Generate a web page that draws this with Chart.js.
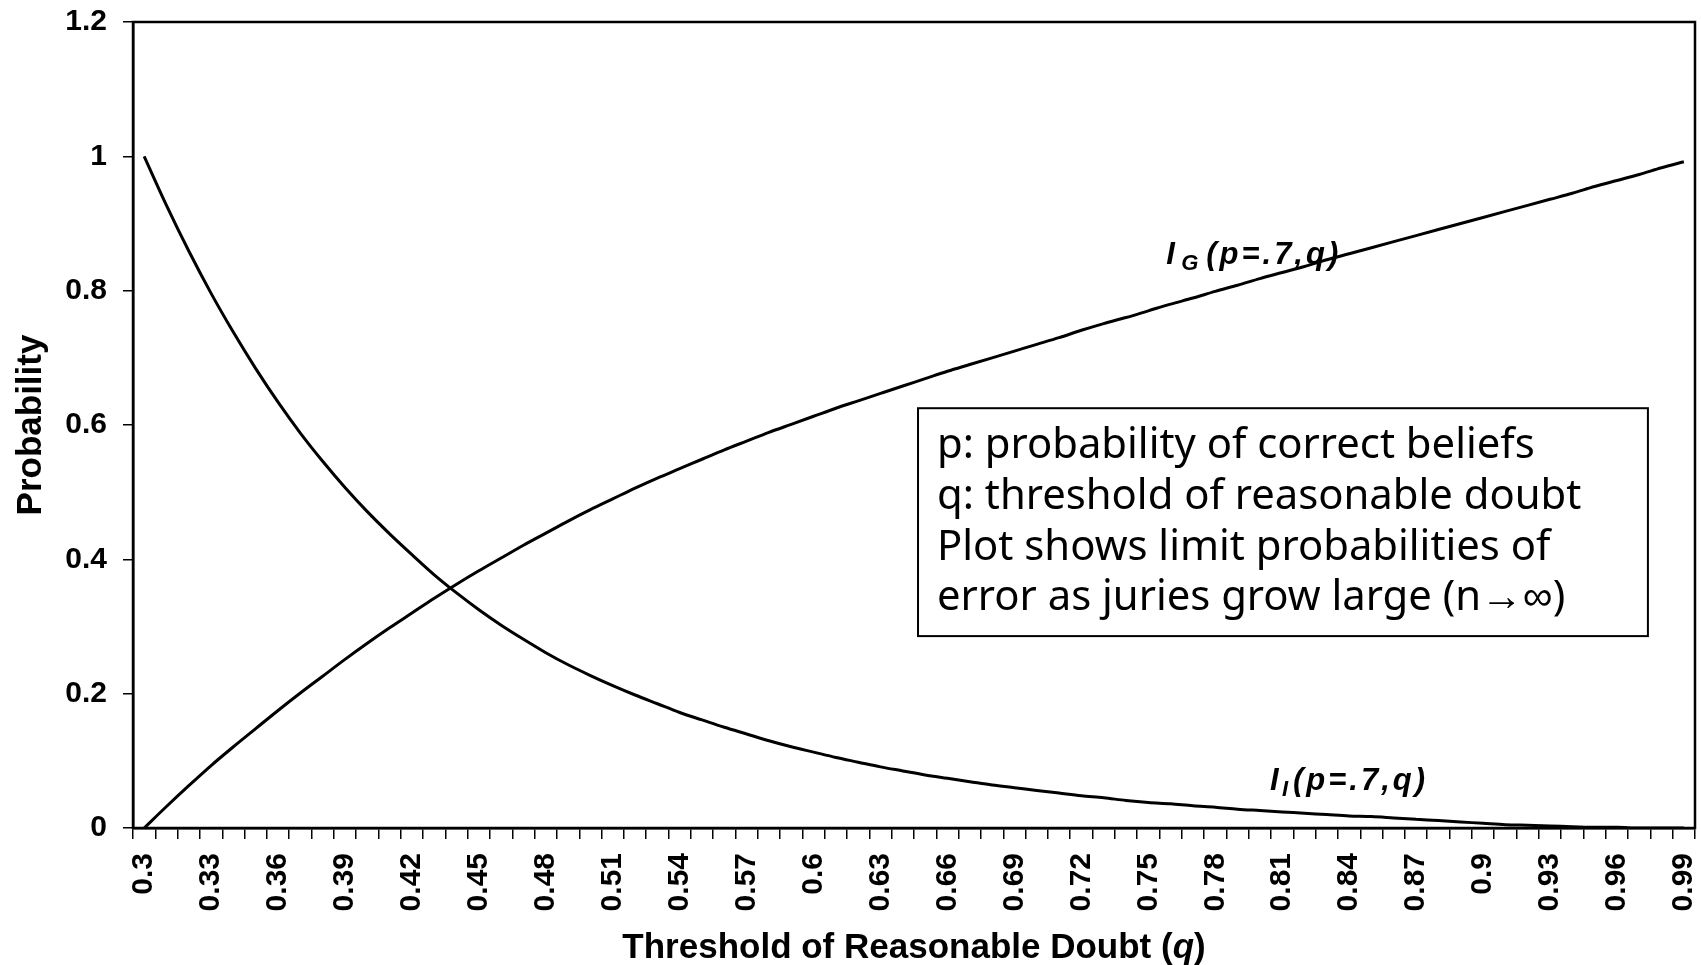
<!DOCTYPE html>
<html>
<head>
<meta charset="utf-8">
<title>Limit probabilities of error</title>
<script src="https://cdn.jsdelivr.net/npm/chart.js@4.4.1/dist/chart.umd.min.js"></script>
<style>
  html, body { margin: 0; padding: 0; background: #fff; }
  #wrap { width: 1701px; height: 965px; }
</style>
</head>
<body>
<div id="wrap"><canvas id="chart" width="1701" height="965"></canvas></div>
<script>
// Threshold of reasonable doubt q, one category per 0.01
const qLabels = [
  '0.3', '0.31', '0.32', '0.33', '0.34', '0.35', '0.36', '0.37', '0.38', '0.39',
  '0.4', '0.41', '0.42', '0.43', '0.44', '0.45', '0.46', '0.47', '0.48', '0.49',
  '0.5', '0.51', '0.52', '0.53', '0.54', '0.55', '0.56', '0.57', '0.58', '0.59',
  '0.6', '0.61', '0.62', '0.63', '0.64', '0.65', '0.66', '0.67', '0.68', '0.69',
  '0.7', '0.71', '0.72', '0.73', '0.74', '0.75', '0.76', '0.77', '0.78', '0.79',
  '0.8', '0.81', '0.82', '0.83', '0.84', '0.85', '0.86', '0.87', '0.88', '0.89',
  '0.9', '0.91', '0.92', '0.93', '0.94', '0.95', '0.96', '0.97', '0.98', '0.99'
];

// I_G(p=.7,q) - guilty acquitted
const igValues = [
  0.000, 0.032, 0.063, 0.093, 0.121, 0.148, 0.175, 0.201, 0.226, 0.251,
  0.275, 0.298, 0.320, 0.342, 0.363, 0.383, 0.402, 0.421, 0.439, 0.457,
  0.474, 0.490, 0.506, 0.521, 0.535, 0.549, 0.563, 0.576, 0.589, 0.601,
  0.613, 0.625, 0.636, 0.647, 0.658, 0.669, 0.680, 0.690, 0.700, 0.710,
  0.720, 0.730, 0.741, 0.751, 0.760, 0.770, 0.780, 0.789, 0.799, 0.808,
  0.818, 0.827, 0.836, 0.846, 0.855, 0.864, 0.873, 0.882, 0.891, 0.900,
  0.909, 0.918, 0.927, 0.936, 0.945, 0.955, 0.964, 0.973, 0.983, 0.992
];

// I_I(p=.7,q) - innocent convicted
const iiValues = [
  1.000, 0.927, 0.859, 0.796, 0.738, 0.684, 0.634, 0.588, 0.546, 0.507,
  0.471, 0.438, 0.407, 0.377, 0.350, 0.325, 0.302, 0.281, 0.261, 0.243,
  0.227, 0.212, 0.198, 0.185, 0.172, 0.161, 0.150, 0.140, 0.130, 0.121,
  0.113, 0.105, 0.098, 0.091, 0.085, 0.079, 0.074, 0.069, 0.064, 0.060,
  0.056, 0.052, 0.048, 0.045, 0.041, 0.038, 0.036, 0.033, 0.031, 0.028,
  0.026, 0.024, 0.022, 0.020, 0.018, 0.017, 0.015, 0.013, 0.011, 0.009,
  0.007, 0.005, 0.004, 0.003, 0.002, 0.001, 0.001, 0.000, 0.000, 0.000
];

const xTickLabels = ['0.3', '0.33', '0.36', '0.39', '0.42', '0.45', '0.48', '0.51', '0.54', '0.57',
  '0.6', '0.63', '0.66', '0.69', '0.72', '0.75', '0.78', '0.81', '0.84', '0.87', '0.9', '0.93', '0.96', '0.99'];
const yTickValues = [0, 0.2, 0.4, 0.6, 0.8, 1, 1.2];
const yTickLabels = ['0', '0.2', '0.4', '0.6', '0.8', '1', '1.2'];

const noteLines = [
  'p: probability of correct beliefs',
  'q: threshold of reasonable doubt',
  'Plot shows limit probabilities of',
  'error as juries grow large (n\u2192\u221E)'
];

const SANS = '"Liberation Sans", Arial, Helvetica, sans-serif';
const NOTE_FONT = '"Comic Sans MS", "Noto Sans", sans-serif';

// annotation anchors, in data units (q, probability)
const seriesLabels = [
  { sub: 'G', q: 0.758, v: 0.839, subDx: 15, restDx: 40 },
  { sub: 'I', q: 0.8045, v: 0.0565, subDx: 12, restDx: 23 }
];
const noteBox = { q0: 0.6468, q1: 0.9739, v0: 0.625, v1: 0.2857 };

const qToIndex = q => (q - 0.30) * 100;

/**
 * Frame, curve labels, note box and x axis title
 */
const annotations = {
  id: 'annotations',
  afterDraw(chart) {
    const { ctx, chartArea: a, scales: { x, y } } = chart;
    const px = q => x.getPixelForValue(qToIndex(q));
    const py = v => y.getPixelForValue(v);

    ctx.save();
    ctx.strokeStyle = '#000';
    ctx.fillStyle = '#000';
    ctx.lineWidth = 2.5;
    ctx.strokeRect(a.left, a.top, a.right - a.left, a.bottom - a.top);

    // curve labels
    ctx.textAlign = 'left';
    ctx.textBaseline = 'alphabetic';
    seriesLabels.forEach(lbl => {
      const x0 = px(lbl.q);
      const y0 = py(lbl.v);
      ctx.font = 'italic bold 31px ' + SANS;
      ctx.fillText('I', x0, y0);
      ctx.font = 'italic bold 22px ' + SANS;
      ctx.fillText(lbl.sub, x0 + lbl.subDx, y0 + 6);
      ctx.font = 'italic bold 31px ' + SANS;
      ctx.letterSpacing = '3px';
      ctx.fillText('(p=.7,q)', x0 + lbl.restDx, y0);
      ctx.letterSpacing = '0px';
    });

    // note box
    const bx0 = px(noteBox.q0), bx1 = px(noteBox.q1);
    const by0 = py(noteBox.v0), by1 = py(noteBox.v1);
    ctx.fillStyle = '#fff';
    ctx.fillRect(bx0, by0, bx1 - bx0, by1 - by0);
    ctx.lineWidth = 2;
    ctx.strokeRect(bx0, by0, bx1 - bx0, by1 - by0);
    ctx.fillStyle = '#000';
    ctx.font = '40px ' + NOTE_FONT;
    const size = 40 * 644 / ctx.measureText(noteLines[1]).width;
    ctx.font = size.toFixed(1) + 'px ' + NOTE_FONT;
    noteLines.forEach((line, i) => {
      ctx.fillText(line, bx0 + 19, by0 + 50 + i * 50.7);
    });

    // x axis title with italic q
    const parts = [
      { t: 'Threshold of Reasonable Doubt (', f: 'bold 35px ' + SANS },
      { t: 'q', f: 'italic bold 35px ' + SANS },
      { t: ')', f: 'bold 35px ' + SANS }
    ];
    let total = 0;
    parts.forEach(p => { ctx.font = p.f; p.w = ctx.measureText(p.t).width; total += p.w; });
    let tx = (a.left + a.right) / 2 - total / 2;
    const ty = chart.height - 7;
    parts.forEach(p => { ctx.font = p.f; ctx.fillText(p.t, tx, ty); tx += p.w; });
    ctx.restore();
  }
};

const tickFont = { family: SANS, size: 30, weight: 'bold' };

new Chart(document.getElementById('chart'), {
  type: 'line',
  data: {
    labels: qLabels,
    datasets: [
      {
        label: 'I_G(p=.7,q)',
        data: igValues,
        borderColor: '#000',
        borderWidth: 3,
        pointRadius: 0,
        cubicInterpolationMode: 'monotone',
        fill: false
      },
      {
        label: 'I_I(p=.7,q)',
        data: iiValues,
        borderColor: '#000',
        borderWidth: 3,
        pointRadius: 0,
        cubicInterpolationMode: 'monotone',
        fill: false
      }
    ]
  },
  options: {
    responsive: false,
    animation: false,
    devicePixelRatio: 1,
    layout: { padding: { top: 22, right: 6, left: 0, bottom: 0 } },
    plugins: {
      legend: { display: false },
      tooltip: { enabled: false }
    },
    scales: {
      x: {
        type: 'category',
        offset: true,
        grid: { offset: true, drawOnChartArea: false, tickLength: 11, color: '#000', lineWidth: 1.5 },
        border: { color: '#000', width: 2.5 },
        ticks: {
          autoSkip: false,
          minRotation: 90,
          maxRotation: 90,
          padding: 14,
          color: '#000',
          font: tickFont,
          callback: (val, i) => xTickLabels.includes(qLabels[i]) ? qLabels[i] : ''
        },
        afterFit: s => { s.height = 137; s.paddingLeft = 0; s.paddingRight = 0; }
      },
      y: {
        min: 0,
        max: 1.2,
        afterBuildTicks: s => { s.ticks = yTickValues.map(v => ({ value: v })); },
        grid: { drawOnChartArea: false, tickLength: 10, color: '#000', lineWidth: 1.5 },
        border: { color: '#000', width: 2.5 },
        ticks: {
          padding: 16,
          color: '#000',
          font: tickFont,
          callback: (val, i) => yTickLabels[i]
        },
        title: {
          display: true,
          text: 'Probability',
          color: '#000',
          font: { family: SANS, size: 35, weight: 'bold' },
          padding: { top: 10, bottom: 0 }
        },
        afterFit: s => { s.width = 133; s.paddingTop = 0; s.paddingBottom = 0; }
      }
    }
  },
  plugins: [annotations]
});
</script>
</body>
</html>
